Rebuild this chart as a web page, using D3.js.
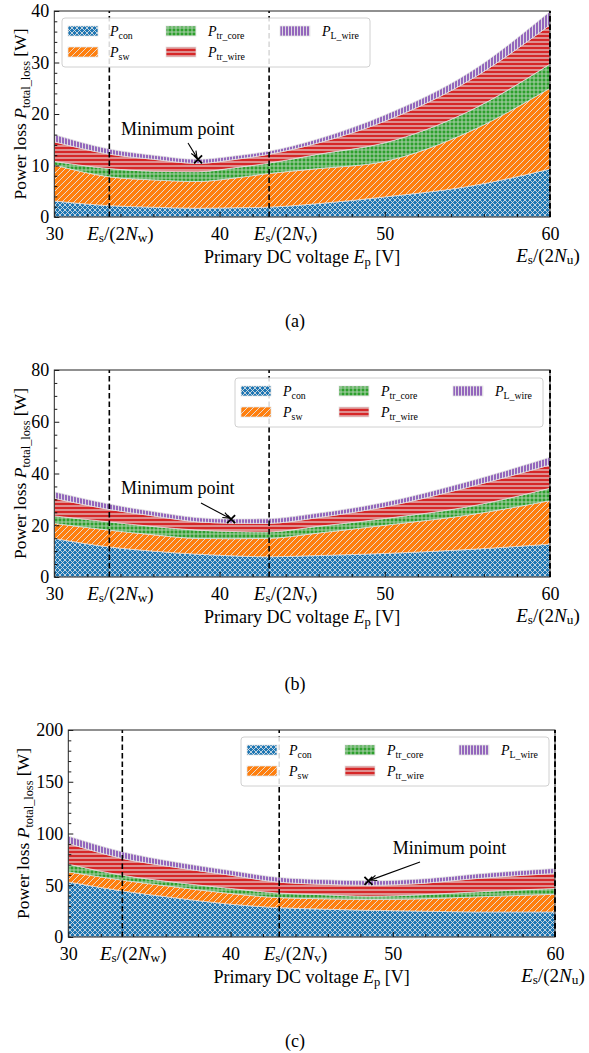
<!DOCTYPE html>
<html>
<head>
<meta charset="utf-8">
<script src="https://cdn.jsdelivr.net/npm/d3@7"></script>
<style>
  html, body { margin: 0; padding: 0; background: #fff; }
  svg { display: block; }
  text { font-family: "Liberation Serif", "Times New Roman", serif; fill: #000; }
</style>
</head>
<body>
<svg id="fig" width="589" height="1053"></svg>
<script>
// Loss breakdown (W) versus primary DC voltage Ep (V) for three designs.
const seriesKeys = ["con", "sw", "trCore", "trWire", "lWire"];

// (a)
const voltageA = [30, 33.33, 36, 38.7, 41, 42.86, 46, 50, 55, 60];
const conA     = [3.1, 2.2, 1.9, 1.7, 1.8, 1.9, 2.6, 3.9, 5.9, 9.3];
const swA      = [7.0, 5.6, 5.3, 5.2, 5.8, 6.5, 6.8, 6.9, 10.5, 15.7];
const trCoreA  = [0.7, 1.6, 1.7, 1.9, 2.0, 2.0, 2.8, 3.6, 4.0, 4.7];
const trWireA  = [3.8, 2.8, 2.3, 1.6, 1.6, 1.7, 2.2, 4.2, 5.9, 7.6];
const lWireA   = [1.4, 1.0, 0.8, 0.8, 0.7, 0.6, 0.8, 1.2, 1.5, 2.6];

// (b)
const voltageB = [30, 33.33, 36, 38.7, 40.7, 42.86, 46, 50, 55, 60];
const conB     = [14.9, 11.6, 10.0, 8.8, 8.2, 7.8, 8.3, 9.1, 10.6, 12.7];
const swB      = [5.8, 6.5, 6.3, 6.1, 6.6, 7.1, 8.7, 10.9, 13.3, 16.8];
const trCoreB  = [2.9, 3.2, 3.2, 3.2, 2.8, 2.5, 2.6, 2.6, 3.2, 4.8];
const trWireB  = [6.8, 4.8, 4.1, 3.2, 3.2, 3.3, 3.4, 4.5, 7.5, 9.0];
const lWireB   = [2.5, 2.1, 1.7, 1.6, 1.6, 1.8, 1.7, 1.8, 2.2, 3.0];

// (c)
const voltageC = [30, 33.33, 36.5, 40, 42.86, 45.5, 48.5, 52, 55, 60];
const conC     = [53.2, 44.5, 38.0, 31.7, 28.4, 27.0, 25.8, 25.0, 24.2, 24.2];
const swC      = [9.7, 10.4, 10.5, 10.3, 9.7, 10.0, 10.4, 12.0, 14.5, 17.1];
const trCoreC  = [7.5, 4.8, 4.5, 4.9, 4.5, 4.0, 3.2, 4.0, 4.8, 5.6];
const trWireC  = [20.0, 16.2, 14.5, 12.8, 10.6, 10.0, 10.6, 11.0, 12.8, 14.5];
const lWireC   = [7.1, 6.4, 5.2, 4.5, 4.6, 4.5, 4.3, 4.3, 4.4, 4.8];

// Axis ticks
const xTicks = [30, 40, 50, 60];
const yTicksA = [0, 10, 20, 30, 40];
const yTicksB = [0, 20, 40, 60, 80];
const yTicksC = [0, 50, 100, 150, 200];
// Mode boundaries Es/(2Nw), Es/(2Nv), Es/(2Nu) and where their labels sit
const boundaryVoltages = [33.33, 43, 60];
const boundaryLabelAt = [34, 44, 60];

const legendNames = ["con", "sw", "tr_core", "tr_wire", "L_wire"];
const captions = ["(a)", "(b)", "(c)"];

// ---------------------------------------------------------------------------
const colors = { con: "#1f77b4", sw: "#ff7f0e", trCore: "#2ca02c", trWire: "#d62728", lWire: "#9467bd" };
const hatchInk = "rgba(228,228,228,0.92)";
const serif = '"Liberation Serif", "Times New Roman", serif';

const svg = d3.select("#fig");
const defs = svg.append("defs");

// Hatch patterns, one per loss component
function pattern(id, w, h, bg, draw) {
  const p = defs.append("pattern").attr("id", id).attr("patternUnits", "userSpaceOnUse")
    .attr("width", w).attr("height", h);
  p.append("rect").attr("width", w).attr("height", h).attr("fill", bg);
  draw(p);
}
pattern("hatch-con", 5, 5, colors.con, p => {
  p.append("path").attr("d", "M0,0L5,5M5,0L0,5M-1,1L1,-1M4,6L6,4M-1,4L1,6M4,-1L6,1")
    .attr("stroke", hatchInk).attr("stroke-width", 0.9).attr("fill", "none");
});
pattern("hatch-sw", 6, 6, colors.sw, p => {
  p.append("path").attr("d", "M0,6L6,0M-1,1L1,-1M5,7L7,5")
    .attr("stroke", hatchInk).attr("stroke-width", 1.0).attr("fill", "none");
});
pattern("hatch-trCore", 4, 4, colors.trCore, p => {
  p.append("circle").attr("cx", 2).attr("cy", 2).attr("r", 1.2)
    .attr("stroke", hatchInk).attr("stroke-width", 0.8).attr("fill", "none");
});
pattern("hatch-trWire", 4, 4, colors.trWire, p => {
  p.append("path").attr("d", "M0,2L4,2")
    .attr("stroke", hatchInk).attr("stroke-width", 1.2).attr("fill", "none");
});
pattern("hatch-lWire", 3, 3, colors.lWire, p => {
  p.append("path").attr("d", "M1.5,0L1.5,3")
    .attr("stroke", hatchInk).attr("stroke-width", 1.0).attr("fill", "none");
});

// Write text made of roman / italic / subscript runs
function rich(sel, parts, size, drop) {
  const shift = size * (drop || 0.15);
  let down = false;
  parts.forEach(p => {
    const ts = sel.append("tspan").text(p.t);
    if (p.i) ts.attr("font-style", "italic");
    if (p.sub) {
      ts.attr("font-size", size * 0.7);
      if (!down) { ts.attr("dy", shift); down = true; }
    } else if (down) {
      ts.attr("dy", -shift); down = false;
    }
  });
  return sel;
}

const panels = [
  {
    v: voltageA, cols: { con: conA, sw: swA, trCore: trCoreA, trWire: trWireA, lWire: lWireA },
    yMax: 40, yTicks: yTicksA, yMinor: 2,
    box: { left: 54.3, right: 550, top: 11, bottom: 217 }, yLabelX: 26,
    legend: { x: 62, y: 18 }, note: { x: 121, y: 135, ax: 188, ay: 143 }, capY: 327
  },
  {
    v: voltageB, cols: { con: conB, sw: swB, trCore: trCoreB, trWire: trWireB, lWire: lWireB },
    yMax: 80, yTicks: yTicksB, yMinor: 5,
    box: { left: 54.3, right: 550, top: 370, bottom: 577 }, yLabelX: 26,
    legend: { x: 235, y: 378 }, note: { x: 121, y: 494, ax: 201, ay: 503 }, capY: 690
  },
  {
    v: voltageC, cols: { con: conC, sw: swC, trCore: trCoreC, trWire: trWireC, lWire: lWireC },
    yMax: 200, yTicks: yTicksC, yMinor: 10,
    box: { left: 68.3, right: 555, top: 730, bottom: 937 }, yLabelX: 29,
    legend: { x: 241, y: 737 }, note: { x: 392.7, y: 854, ax: 420, ay: 862 }, capY: 1047
  }
];

const fs = 18;      // tick labels, axis titles
const fsYT = 17.5;  // vertical axis title
const fsB = 19;     // boundary labels

panels.forEach((P, pi) => {
  const B = P.box;
  const g = svg.append("g");
  const x = d3.scaleLinear().domain([30, 60]).range([B.left, B.right]);
  const y = d3.scaleLinear().domain([0, P.yMax]).range([B.bottom, B.top]);

  const rows = P.v.map((v, i) => {
    const r = { v };
    seriesKeys.forEach(k => { r[k] = P.cols[k][i]; });
    return r;
  });
  const stacked = d3.stack().keys(seriesKeys)(rows);

  const clipId = "clip" + pi;
  defs.append("clipPath").attr("id", clipId).append("rect")
    .attr("x", B.left).attr("y", B.top).attr("width", B.right - B.left).attr("height", B.bottom - B.top);

  const area = d3.area()
    .x(d => x(d.data.v)).y0(d => y(d[0])).y1(d => y(d[1]))
    .curve(d3.curveMonotoneX);

  g.append("g").attr("clip-path", `url(#${clipId})`)
    .selectAll("path").data(stacked).join("path")
    .attr("d", area)
    .attr("fill", d => `url(#hatch-${d.key})`)
    .attr("stroke", hatchInk).attr("stroke-width", 0.8);

  // Mode boundaries
  g.append("g").selectAll("line").data(boundaryVoltages).join("line")
    .attr("x1", d => x(d)).attr("x2", d => x(d))
    .attr("y1", B.bottom).attr("y2", B.top)
    .attr("stroke", "#000").attr("stroke-width", 1.6).attr("stroke-dasharray", "5.5,3");

  // Minimum of the total loss
  const totals = rows.map(r => d3.sum(seriesKeys, k => r[k]));
  const iMin = d3.minIndex(totals);
  const mx = x(rows[iMin].v), my = y(totals[iMin]);

  // Legend
  const L = g.append("g").attr("transform", `translate(${P.legend.x},${P.legend.y})`);
  L.append("rect").attr("width", 308).attr("height", 49).attr("rx", 3)
    .attr("fill", "rgba(255,255,255,0.85)").attr("stroke", "#d0d0d0").attr("stroke-width", 1);
  const slots = [[6, 8], [6, 29], [104, 8], [104, 29], [218, 8]];
  seriesKeys.forEach((k, i) => {
    const [sx, sy] = slots[i];
    L.append("rect").attr("x", sx).attr("y", sy).attr("width", 30).attr("height", 10)
      .attr("fill", `url(#hatch-${k})`).attr("stroke", hatchInk).attr("stroke-width", 0.8);
    const t = L.append("text").attr("x", sx + 42).attr("y", sy + 10).attr("font-size", 14);
    rich(t, [{ t: "P", i: true }, { t: legendNames[i], sub: true }], 14, 0.2);
  });

  // Axes: inward ticks
  const xAxis = d3.axisBottom(x).tickValues(xTicks).tickSizeInner(-5).tickSizeOuter(0).tickPadding(10.2)
    .tickFormat(d3.format("d"));
  g.append("g").attr("transform", `translate(0,${B.bottom})`).call(xAxis);
  const xMinor = d3.range(30, 60.001, 2).filter(d => !xTicks.includes(d));
  g.append("g").attr("transform", `translate(0,${B.bottom})`)
    .call(d3.axisBottom(x).tickValues(xMinor).tickSizeInner(-3).tickSizeOuter(0).tickFormat(""));

  const yAxis = d3.axisLeft(y).tickValues(P.yTicks).tickSizeInner(-5).tickSizeOuter(0).tickPadding(5)
    .tickFormat(d3.format("d"));
  g.append("g").attr("transform", `translate(${B.left},0)`).call(yAxis);
  const yMinor = d3.range(0, P.yMax + 0.001, P.yMinor).filter(d => !P.yTicks.includes(d));
  g.append("g").attr("transform", `translate(${B.left},0)`)
    .call(d3.axisLeft(y).tickValues(yMinor).tickSizeInner(-3).tickSizeOuter(0).tickFormat(""));

  g.selectAll(".domain").remove();
  g.selectAll(".tick line").attr("stroke", "#000").attr("stroke-width", 0.9);
  g.selectAll(".tick text").attr("font-family", serif).attr("font-size", fs).attr("fill", "#000");

  // Frame
  g.append("rect").attr("x", B.left).attr("y", B.top)
    .attr("width", B.right - B.left).attr("height", B.bottom - B.top)
    .attr("fill", "none").attr("stroke", "#222").attr("stroke-width", 1);
  g.append("line").attr("x1", x(60)).attr("x2", x(60)).attr("y1", B.bottom).attr("y2", B.top)
    .attr("stroke", "#000").attr("stroke-width", 1.6).attr("stroke-dasharray", "5.5,3");

  // Boundary labels on the voltage axis
  const labBase = B.bottom + 23;
  const mk = (n) => [{ t: "E", i: true }, { t: "s", sub: true }, { t: "/(2" }, { t: "N", i: true }, { t: n, sub: true }, { t: ")" }];
  rich(g.append("text").attr("x", x(boundaryLabelAt[0])).attr("y", labBase)
    .attr("text-anchor", "middle").attr("font-size", fsB), mk("w"), fsB, 0.12);
  rich(g.append("text").attr("x", x(boundaryLabelAt[1])).attr("y", labBase)
    .attr("text-anchor", "middle").attr("font-size", fsB), mk("v"), fsB, 0.12);
  rich(g.append("text").attr("x", x(boundaryLabelAt[2]) - 2).attr("y", labBase + 22)
    .attr("text-anchor", "middle").attr("font-size", fsB), mk("u"), fsB, 0.12);

  // Axis titles
  const xt = g.append("text").attr("x", (B.left + B.right) / 2).attr("y", B.bottom + 46)
    .attr("text-anchor", "middle").attr("font-size", fs);
  rich(xt, [{ t: "Primary DC voltage " }, { t: "E", i: true }, { t: "p", sub: true }, { t: " [V]" }], fs, 0.15);

  const yt = g.append("text")
    .attr("transform", `translate(${P.yLabelX},${(B.top + B.bottom) / 2}) rotate(-90)`)
    .attr("text-anchor", "middle").attr("font-size", fsYT);
  rich(yt, [{ t: "Power loss " }, { t: "P", i: true }, { t: "total_loss", sub: true }, { t: " [W]" }], fsYT, 0.2);

  // Annotation of the minimum
  const N = P.note;
  g.append("text").attr("x", N.x).attr("y", N.y).attr("font-size", fs).text("Minimum point");
  const ang = Math.atan2(my - N.ay, mx - N.ax);
  const tipX = mx - Math.cos(ang) * 2, tipY = my - Math.sin(ang) * 2;
  g.append("line").attr("x1", N.ax).attr("y1", N.ay).attr("x2", tipX).attr("y2", tipY)
    .attr("stroke", "#000").attr("stroke-width", 1.1);
  const hl = 7, ha = 0.4;
  g.append("path")
    .attr("d", `M${tipX - hl * Math.cos(ang - ha)},${tipY - hl * Math.sin(ang - ha)}L${tipX},${tipY}L${tipX - hl * Math.cos(ang + ha)},${tipY - hl * Math.sin(ang + ha)}`)
    .attr("fill", "none").attr("stroke", "#000").attr("stroke-width", 1.1);
  g.append("path").attr("transform", `translate(${mx},${my})`)
    .attr("d", "M-4,-4L4,4M-4,4L4,-4").attr("stroke", "#000").attr("stroke-width", 1.8);

  // Caption
  g.append("text").attr("x", 295).attr("y", P.capY).attr("text-anchor", "middle")
    .attr("font-size", 18).text(captions[pi]);
});
</script>
</body>
</html>
